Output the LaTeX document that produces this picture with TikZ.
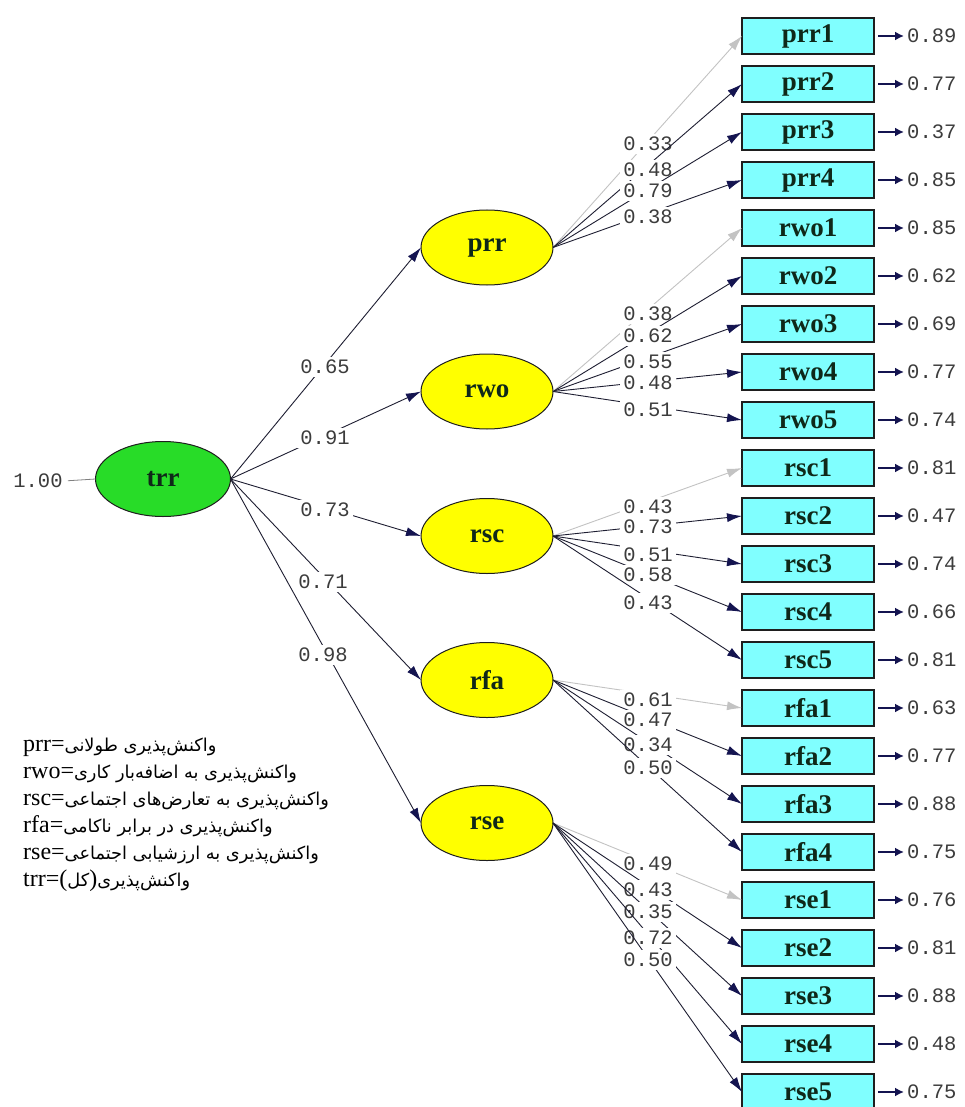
\documentclass[tikz,border=0pt]{standalone}
\usepackage{fontspec}
\setmainfont{Liberation Serif}
\newfontfamily\numfont{Liberation Mono}
\newfontfamily\arabicfont[Script=Arabic,Scale=0.74]{DejaVu Sans}
\TeXXeTstate=1
\usetikzlibrary{arrows.meta,shapes.geometric}
\definecolor{cyanfill}{RGB}{128,255,255}
\definecolor{latyellow}{RGB}{255,255,0}
\definecolor{latgreen}{RGB}{40,220,40}
\definecolor{navy}{RGB}{20,20,80}
\definecolor{linec}{RGB}{30,30,50}
\definecolor{fixc}{RGB}{195,195,195}
\definecolor{numc}{RGB}{60,60,60}
\definecolor{boxtext}{RGB}{15,40,25}
\definecolor{edgec}{RGB}{30,30,30}
\begin{document}
\begin{tikzpicture}[x=1pt,y=-1pt,
  obs/.style={draw=edgec, line width=1.4pt, fill=cyanfill, minimum width=132pt, minimum height=36pt, inner sep=0pt, outer sep=0pt, text=boxtext, font=\fontsize{27}{27}\selectfont\bfseries},
  lat/.style={ellipse, draw=edgec, line width=1pt, fill=latyellow, minimum width=132pt, minimum height=75pt, inner sep=0pt, outer sep=0pt, text=boxtext, font=\fontsize{27}{27}\selectfont\bfseries},
  num/.style={font=\numfont\fontsize{20.5}{20.5}\selectfont, text=numc, inner sep=1pt},
  numbg/.style={num, fill=white, inner sep=3pt},
  load/.style={draw=linec, line width=0.9pt, -{Latex[length=15pt,width=9pt,color=navy]}},
  fixload/.style={draw=fixc, line width=0.9pt, -{Latex[length=15pt,width=9pt,color=fixc]}},
  errarr/.style={draw=navy, line width=2pt, -{Latex[length=9pt,width=9pt]}, shorten <=4pt, shorten >=2pt},
  legend/.style={anchor=base west, inner sep=0pt, font=\fontsize{24}{27}\selectfont}
]
\fill[white] (0,0) rectangle (965,1107);
\useasboundingbox (0,0) rectangle (965,1107);

% latent variables
\node[lat, fill=latgreen, minimum width=135pt] (trr) at (163,479) {trr};
\node[lat] (prr) at (487,247.5) {prr};
\node[lat] (rwo) at (487,391.5) {rwo};
\node[lat] (rsc) at (487,536) {rsc};
\node[lat] (rfa) at (487,680) {rfa};
\node[lat] (rse) at (487,823) {rse};

% trr variance
\node[num] (one) at (38,481) {1.00};
\draw[draw=gray, line width=0.8pt, shorten <=4pt] (one.east) -- (trr.west);

% structural paths
\foreach \tg/\vl/\lx/\ly in {prr/0.65/325/367, rwo/0.91/325/438, rsc/0.73/325/510, rfa/0.71/323/582, rse/0.98/323/655}{
  \draw[load] (trr.east) -- (\tg.west);
  \node[numbg] at (\lx,\ly) {\vl};
}

% indicators
\foreach \i/\nm/\ld/\er/\lat/\ly/\sty in {
  0/prr1/0.33/0.89/prr/144/fixload,
  1/prr2/0.48/0.77/prr/170/load,
  2/prr3/0.79/0.37/prr/191/load,
  3/prr4/0.38/0.85/prr/217/load,
  4/rwo1/0.38/0.85/rwo/314/fixload,
  5/rwo2/0.62/0.62/rwo/336/load,
  6/rwo3/0.55/0.69/rwo/362/load,
  7/rwo4/0.48/0.77/rwo/383/load,
  8/rwo5/0.51/0.74/rwo/410/load,
  9/rsc1/0.43/0.81/rsc/507/fixload,
  10/rsc2/0.73/0.47/rsc/527/load,
  11/rsc3/0.51/0.74/rsc/555/load,
  12/rsc4/0.58/0.66/rsc/575/load,
  13/rsc5/0.43/0.81/rsc/603/load,
  14/rfa1/0.61/0.63/rfa/700/fixload,
  15/rfa2/0.47/0.77/rfa/720/load,
  16/rfa3/0.34/0.88/rfa/745/load,
  17/rfa4/0.50/0.75/rfa/768/load,
  18/rse1/0.49/0.76/rse/864/fixload,
  19/rse2/0.43/0.81/rse/890/load,
  20/rse3/0.35/0.88/rse/912/load,
  21/rse4/0.72/0.48/rse/938/load,
  22/rse5/0.50/0.75/rse/960/load}{
  \node[obs] (\nm) at (808,{36+48*\i}) {\nm};
  \draw[\sty] (\lat.east) -- (\nm.west);
  \node[numbg] at (648,\ly) {\ld};
  \node[num, anchor=west] (e\nm) at (906,{36+48*\i}) {\er};
  \draw[errarr] (\nm.east) -- (e\nm.west);
}

% legend
\node[legend] (lg1) at (23,751) {prr={\arabicfont\beginR واکنش‌پذیری طولانی\endR}};
\node[legend] (lg2) at (23,778) {rwo={\arabicfont\beginR واکنش‌پذیری به اضافه‌بار کاری\endR}};
\node[legend] (lg3) at (23,805) {rsc={\arabicfont\beginR واکنش‌پذیری به تعارض‌های اجتماعی\endR}};
\node[legend] (lg4) at (23,832) {rfa={\arabicfont\beginR واکنش‌پذیری در برابر ناکامی\endR}};
\node[legend] (lg5) at (23,859) {rse={\arabicfont\beginR واکنش‌پذیری به ارزشیابی اجتماعی\endR}};
\node[legend] (lg6) at (23,886) {trr=({\arabicfont کل}){\arabicfont\beginR واکنش‌پذیری\endR}};
\end{tikzpicture}
\end{document}
